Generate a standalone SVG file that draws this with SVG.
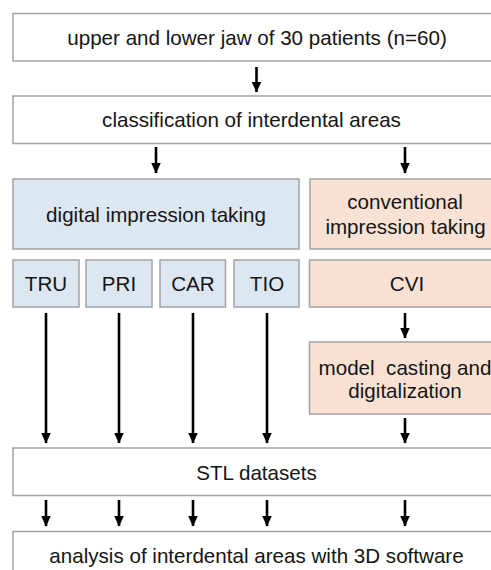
<svg xmlns="http://www.w3.org/2000/svg" width="491" height="570" viewBox="0 0 491 570">
  <style>
    .box { stroke: #a3a3a3; stroke-width: 1.5; }
    .plain { fill: #ffffff; }
    .digital { fill: #dde7f2; }
    .conv { fill: #f9e2d4; }
    .label { font-family: "Liberation Sans", Arial, sans-serif; font-size: 20.6px; fill: #151515; text-anchor: middle; white-space: pre; }
    .conn { stroke: #000000; stroke-width: 2.6; fill: none; marker-end: url(#head); }
  </style>
  <defs>
    <marker id="head" markerUnits="userSpaceOnUse" markerWidth="11" markerHeight="11" viewBox="0 0 11 11" refX="10.5" refY="5.5" orient="auto">
      <path d="M0,0.5 L11,5.5 L0,10.5 Z" fill="#000000"/>
    </marker>
  </defs>
  <rect width="491" height="570" fill="#ffffff"/>

  <g id="patients">
    <rect class="box plain" x="13" y="13.5" width="500" height="47.5"/>
    <text class="label" x="257" y="44.5">upper and lower jaw of 30 patients (n=60)</text>
  </g>
  <g id="classification">
    <rect class="box plain" x="13" y="96" width="500" height="47.5"/>
    <text class="label" x="251.5" y="127">classification of interdental areas</text>
  </g>
  <g id="digital">
    <rect class="box digital" x="13" y="179" width="286" height="70"/>
    <text class="label" x="156" y="222">digital impression taking</text>
  </g>
  <g id="conventional">
    <rect class="box conv" x="310" y="179" width="200" height="70"/>
    <text class="label" x="405" y="209">conventional</text>
    <text class="label" x="405.5" y="234">impression taking</text>
  </g>
  <g id="tru">
    <rect class="box digital" x="13" y="260" width="66" height="47"/>
    <text class="label" x="46" y="290.5">TRU</text>
  </g>
  <g id="pri">
    <rect class="box digital" x="86" y="260" width="66" height="47"/>
    <text class="label" x="119" y="290.5">PRI</text>
  </g>
  <g id="car">
    <rect class="box digital" x="160" y="260" width="65.5" height="47"/>
    <text class="label" x="193" y="290.5">CAR</text>
  </g>
  <g id="tio">
    <rect class="box digital" x="234" y="260" width="65" height="47"/>
    <text class="label" x="267" y="290.5">TIO</text>
  </g>
  <g id="cvi">
    <rect class="box conv" x="309.5" y="260" width="200" height="47"/>
    <text class="label" x="407" y="290.5">CVI</text>
  </g>
  <g id="model">
    <rect class="box conv" x="309.5" y="342" width="200" height="72"/>
    <text class="label" x="405" y="375">model  casting and</text>
    <text class="label" x="405" y="398">digitalization</text>
  </g>
  <g id="stl">
    <rect class="box plain" x="13" y="448" width="500" height="47.5"/>
    <text class="label" x="256.5" y="480">STL datasets</text>
  </g>
  <g id="analysis">
    <rect class="box plain" x="13" y="531.5" width="500" height="60"/>
    <text class="label" x="256.5" y="563">analysis of interdental areas with 3D software</text>
  </g>

  <g id="connectors">
    <line class="conn" x1="256.5" y1="67" x2="256.5" y2="92"/>
    <line class="conn" x1="156" y1="147" x2="156" y2="173"/>
    <line class="conn" x1="405" y1="147" x2="405" y2="173"/>
    <line class="conn" x1="46" y1="313" x2="46" y2="443"/>
    <line class="conn" x1="119" y1="313" x2="119" y2="443"/>
    <line class="conn" x1="193" y1="313" x2="193" y2="443"/>
    <line class="conn" x1="267" y1="313" x2="267" y2="443"/>
    <line class="conn" x1="405" y1="313" x2="405" y2="338"/>
    <line class="conn" x1="405" y1="418" x2="405" y2="443"/>
    <line class="conn" x1="46" y1="500" x2="46" y2="526"/>
    <line class="conn" x1="119" y1="500" x2="119" y2="526"/>
    <line class="conn" x1="193" y1="500" x2="193" y2="526"/>
    <line class="conn" x1="267" y1="500" x2="267" y2="526"/>
    <line class="conn" x1="405" y1="500" x2="405" y2="526"/>
  </g>
</svg>
